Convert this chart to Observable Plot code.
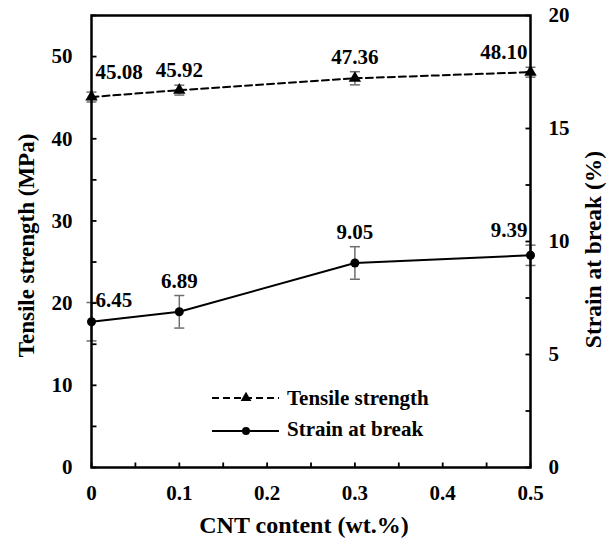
<!DOCTYPE html>
<html>
<head>
<meta charset="utf-8">
<script src="https://cdn.jsdelivr.net/npm/d3@7"></script>
<script src="https://cdn.jsdelivr.net/npm/@observablehq/plot@0.6"></script>
<style>
  body { margin: 0; background: #fff; }
  #chart { position: relative; width: 614px; height: 540px; font-family: "Liberation Serif", "Times New Roman", serif; }
  #chart svg, #chart text { font-family: "Liberation Serif", "Times New Roman", serif !important; font-weight: bold; }
  #legend { position: absolute; left: 0; top: 0; pointer-events: none; }
</style>
</head>
<body>
<div id="chart"></div>
<script>
// CNT loading (wt.%) and the two measured properties
const cnt = [0, 0.1, 0.3, 0.5];
const tensile = [45.08, 45.92, 47.36, 48.10];      // MPa
const tensileErr = [0.6, 0.6, 0.8, 0.6];
const strain = [6.45, 6.89, 9.05, 9.39];            // %
const strainErr = [0.85, 0.72, 0.72, 0.45];

// axis ticks
const xTicks = [0, 0.1, 0.2, 0.3, 0.4, 0.5];
const xMinor = [0, 0.05, 0.1, 0.15, 0.2, 0.25, 0.3, 0.35, 0.4, 0.45, 0.5];
const leftTicks = [0, 10, 20, 30, 40, 50];
const leftMinor = [0, 5, 10, 15, 20, 25, 30, 35, 40, 45, 50, 55];
const rightTicks = [0, 5, 10, 15, 20];
const rightMinor = [0, 2.5, 5, 7.5, 10, 12.5, 15, 17.5, 20];

const leftMax = 55, rightMax = 20;
const k = leftMax / rightMax;   // strain values are drawn on the tensile scale

const rows = cnt.map((x, i) => ({
  x,
  ts: tensile[i], tsTop: tensile[i] + tensileErr[i], tsBot: tensile[i] - tensileErr[i],
  sb: strain[i] * k, sbTop: (strain[i] + strainErr[i]) * k, sbBot: (strain[i] - strainErr[i]) * k,
  tsLabel: tensile[i].toFixed(2), sbLabel: strain[i].toFixed(2)
}));

const font = "Liberation Serif, Times New Roman, serif";

// short inward tick marks, drawn as custom dot symbols
const tickSym = (dx, dy) => ({ draw(ctx) { ctx.moveTo(0, 0); ctx.lineTo(dx, dy); } });
const capSym = { draw(ctx, size) { const w = Math.sqrt(size / Math.PI); ctx.moveTo(-w, 0); ctx.lineTo(w, 0); } };

function valueLabels(yKey, topKey, textKey, startDy) {
  const n = rows.length;
  const common = { x: "x", text: textKey, lineAnchor: "bottom", fontWeight: "bold", fontSize: 21, fill: "black" };
  return [
    Plot.text(rows.slice(0, 1), { ...common, y: yKey, textAnchor: "start", dx: 4, dy: startDy }),
    Plot.text(rows.slice(1, n - 1), { ...common, y: topKey, textAnchor: "middle", dy: -8 }),
    Plot.text(rows.slice(n - 1), { ...common, y: topKey, textAnchor: "end", dx: -3, dy: -8 })
  ];
}

const errColor = "#6e6e6e";

const plot = Plot.plot({
  width: 614,
  height: 540,
  marginLeft: 91,
  marginRight: 84,
  marginTop: 15,
  marginBottom: 73,
  style: { fontFamily: font, fontSize: "21px", fontWeight: "bold", background: "white", overflow: "visible" },
  x: { domain: [0, 0.5], axis: null },
  y: { domain: [0, leftMax], axis: null },
  marks: [
    // error bars
    Plot.ruleX(rows, { x: "x", y1: "tsBot", y2: "tsTop", stroke: errColor, strokeWidth: 1.5 }),
    Plot.dot(rows, { x: "x", y: "tsTop", symbol: capSym, r: 5, stroke: errColor, strokeWidth: 1.5, fill: "none" }),
    Plot.dot(rows, { x: "x", y: "tsBot", symbol: capSym, r: 5, stroke: errColor, strokeWidth: 1.5, fill: "none" }),
    Plot.ruleX(rows, { x: "x", y1: "sbBot", y2: "sbTop", stroke: errColor, strokeWidth: 1.5 }),
    Plot.dot(rows, { x: "x", y: "sbTop", symbol: capSym, r: 5, stroke: errColor, strokeWidth: 1.5, fill: "none" }),
    Plot.dot(rows, { x: "x", y: "sbBot", symbol: capSym, r: 5, stroke: errColor, strokeWidth: 1.5, fill: "none" }),

    // frame and inward ticks
    Plot.frame({ stroke: "black", strokeWidth: 2.5 }),
    Plot.dot(xMinor, { x: d => d, frameAnchor: "bottom", symbol: tickSym(0, -5), stroke: "black", strokeWidth: 1.8 }),
    Plot.dot(leftMinor, { y: d => d, frameAnchor: "left", symbol: tickSym(5, 0), stroke: "black", strokeWidth: 1.8 }),
    Plot.dot(rightMinor, { y: d => d * k, frameAnchor: "right", symbol: tickSym(-5, 0), stroke: "black", strokeWidth: 1.8 }),

    // tick labels
    Plot.axisX(xTicks, { anchor: "bottom", tickSize: 0, tickPadding: 18, tickFormat: d => String(+d.toFixed(1)), label: null }),
    Plot.axisY(leftTicks, { anchor: "left", tickSize: 0, tickPadding: 19, label: null }),
    Plot.axisY(rightTicks.map(v => v * k), { anchor: "right", tickSize: 0, tickPadding: 18, tickFormat: d => String(Math.round(d / k)), label: null }),

    // axis titles
    Plot.text(["Tensile strength (MPa)"], { frameAnchor: "left", textAnchor: "middle", lineAnchor: "middle", rotate: -90, dx: -64.5, dy: 4, fontSize: 23, fontWeight: "bold" }),
    Plot.text(["Strain at break (%)"], { frameAnchor: "right", textAnchor: "middle", lineAnchor: "middle", rotate: -90, dx: 62.5, dy: 8, fontSize: 23.5, fontWeight: "bold" }),
    Plot.text(["CNT content (wt.%)"], { frameAnchor: "bottom", textAnchor: "middle", lineAnchor: "middle", dx: -7, dy: 58, fontSize: 24, fontWeight: "bold" }),

    // series
    Plot.line(rows, { x: "x", y: "ts", stroke: "black", strokeWidth: 2, strokeDasharray: "7,4" }),
    Plot.dot(rows, { x: "x", y: "ts", symbol: "triangle", r: 4.6, fill: "black" }),
    Plot.line(rows, { x: "x", y: "sb", stroke: "black", strokeWidth: 2 }),
    Plot.dot(rows, { x: "x", y: "sb", r: 4.5, fill: "black" }),

    // value labels
    ...valueLabels("ts", "tsTop", "tsLabel", -18),
    ...valueLabels("sb", "sbTop", "sbLabel", -15)
  ]
});

const chart = document.getElementById("chart");
chart.appendChild(plot);

// legend
const legend = d3.select(chart).append("svg")
  .attr("id", "legend").attr("width", 614).attr("height", 540)
  .style("font-size", "21px");

const items = [
  { name: "Tensile strength", dash: "7,4", symbol: d3.symbolTriangle, lineY: 398, textY: 405 },
  { name: "Strain at break", dash: null, symbol: d3.symbolCircle, lineY: 431, textY: 436 }
];
items.forEach(it => {
  legend.append("line").attr("x1", 212).attr("x2", 279).attr("y1", it.lineY).attr("y2", it.lineY)
    .attr("stroke", "black").attr("stroke-width", 2).attr("stroke-dasharray", it.dash);
  legend.append("path").attr("d", d3.symbol(it.symbol, 50)())
    .attr("transform", `translate(246,${it.lineY})`).attr("fill", "black");
  legend.append("text").attr("x", 287).attr("y", it.textY).text(it.name);
});
</script>
</body>
</html>
